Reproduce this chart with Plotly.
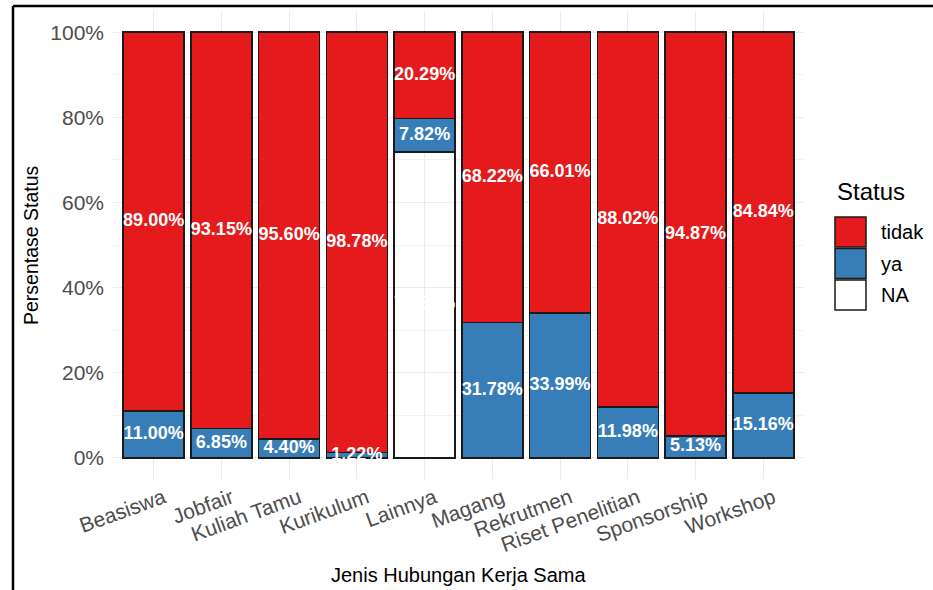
import plotly.graph_objects as go

# --- Data ---
categories = ["Beasiswa", "Jobfair", "Kuliah Tamu", "Kurikulum", "Lainnya",
              "Magang", "Rekrutmen", "Riset Penelitian", "Sponsorship", "Workshop"]
pct_tidak = [89.00, 93.15, 95.60, 98.78, 20.29, 68.22, 66.01, 88.02, 94.87, 84.84]
pct_ya = [11.00, 6.85, 4.40, 1.22, 7.82, 31.78, 33.99, 11.98, 5.13, 15.16]
pct_na = [None, None, None, None, 71.89, None, None, None, None, None]

status_names = ["tidak", "ya", "NA"]
status_colors = {"tidak": "#E41A1C", "ya": "#377EB8", "NA": "rgba(255,255,255,0)"}
legend_fill = {"tidak": "#E41A1C", "ya": "#377EB8", "NA": "#FFFFFF"}

FONT = "Arial, Liberation Sans, sans-serif"
W, H = 933, 590
L, R, T, B = 113, 129, 11, 111
PW, PH = W - L - R, H - T - B


def px(x):
    return (x - L) / PW


def py(y):
    return (H - B - y) / PH


fig = go.Figure()

# stacking from bottom: NA, ya, tidak
series = {"NA": pct_na, "ya": pct_ya, "tidak": pct_tidak}
base = [0.0] * len(categories)
label_x, label_y, label_t = [], [], []
for name in ["NA", "ya", "tidak"]:
    vals = series[name]
    fig.add_trace(go.Bar(
        x=categories,
        y=[v / 100 if v is not None else None for v in vals],
        name=name,
        marker=dict(color=status_colors[name], line=dict(color="#1a1a1a", width=1.6)),
        width=0.9,
        showlegend=False,
    ))
    for i, v in enumerate(vals):
        if v is None:
            continue
        label_x.append(categories[i])
        label_y.append((base[i] + v / 2) / 100)
        label_t.append(f"{v:.2f}%")
        base[i] += v

fig.add_trace(go.Scatter(
    x=label_x, y=label_y, text=label_t, mode="text",
    textfont=dict(color="white", size=18, family=FONT, weight="bold"),
    showlegend=False, hoverinfo="skip", cliponaxis=False,
))

# custom legend (ggplot-like keys)
shapes = []
annotations = []
annotations.append(dict(x=px(835), y=py(192), xref="paper", yref="paper", text="Status",
                        showarrow=False, xanchor="left", yanchor="middle",
                        font=dict(size=24, family=FONT, color="black")))
key_top = 217
for k, name in enumerate(status_names):
    y0 = key_top + k * 31.5
    shapes.append(dict(type="rect", xref="paper", yref="paper",
                       x0=px(835), x1=px(866), y0=py(y0), y1=py(y0 + 30),
                       fillcolor=legend_fill[name], line=dict(color="#1a1a1a", width=1.5)))
    annotations.append(dict(x=px(879), y=py(y0 + 15), xref="paper", yref="paper", text=name,
                            showarrow=False, xanchor="left", yanchor="middle",
                            font=dict(size=20, family=FONT, color="black")))

# axis titles
annotations.append(dict(x=0.5, y=py(575), xref="paper", yref="paper",
                        text="Jenis Hubungan Kerja Sama", showarrow=False,
                        xanchor="center", yanchor="middle",
                        font=dict(size=20, family=FONT, color="black")))
annotations.append(dict(x=px(31), y=py(245), xref="paper", yref="paper",
                        text="Persentase Status", showarrow=False, textangle=-90,
                        xanchor="center", yanchor="middle",
                        font=dict(size=19.5, family=FONT, color="black")))

# image border (top and left)
shapes.append(dict(type="line", xref="paper", yref="paper",
                   x0=px(13), x1=px(940), y0=py(6), y1=py(6),
                   line=dict(color="black", width=2.5)))
shapes.append(dict(type="line", xref="paper", yref="paper",
                   x0=px(13), x1=px(13), y0=py(6), y1=py(600),
                   line=dict(color="black", width=2.5)))

fig.update_layout(
    barmode="stack",
    width=W, height=H,
    margin=dict(l=L, r=R, t=T, b=B, autoexpand=False),
    paper_bgcolor="white",
    plot_bgcolor="white",
    font=dict(family=FONT),
    xaxis=dict(
        range=[-0.6, 9.6],
        showgrid=True, gridcolor="#EBEBEB", gridwidth=1,
        tickangle=-20,
        tickfont=dict(size=21, color="#4D4D4D", family=FONT),
        ticks="", showline=False, zeroline=False,
        ticklabelstandoff=2,
        ticklabelshift=10,
    ),
    yaxis=dict(
        range=[-0.05, 1.05],
        tickvals=[0, 0.2, 0.4, 0.6, 0.8, 1.0],
        ticktext=["0%", "20%", "40%", "60%", "80%", "100%"],
        showgrid=True, gridcolor="#EBEBEB", gridwidth=1,
        minor=dict(tickvals=[0.1, 0.3, 0.5, 0.7, 0.9], showgrid=True,
                   gridcolor="#F2F2F2", gridwidth=0.6),
        tickfont=dict(size=21, color="#4D4D4D", family=FONT),
        ticks="", showline=False, zeroline=False,
        ticklabelstandoff=8,
    ),
    shapes=shapes,
    annotations=annotations,
    showlegend=False,
)

fig.write_html("out.html", config={"displayModeBar": False},
               post_script="document.body.style.margin='0';document.body.style.overflow='hidden';")
